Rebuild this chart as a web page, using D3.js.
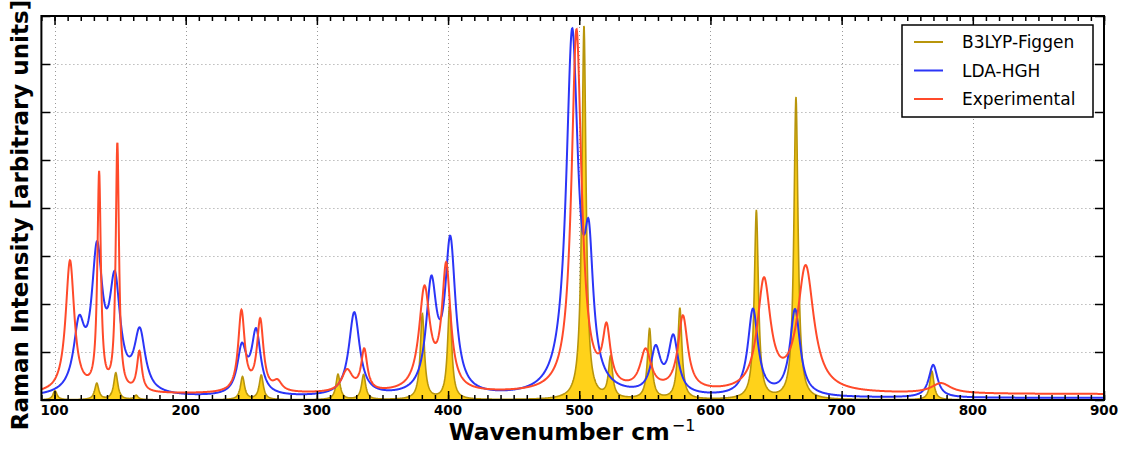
<!DOCTYPE html>
<html><head><meta charset="utf-8">
<script src="https://cdn.jsdelivr.net/npm/d3@7"></script>
<style>body{margin:0;background:#fff}svg{display:block}</style>
</head><body><svg id="c" width="1122" height="449"></svg>
<script>
// ---- data: peak lists: [centre cm^-1, height, half-width] ----
const xTicks = [100,200,300,400,500,600,700,800,900];
const seriesNames = ["B3LYP-Figgen","LDA-HGH","Experimental"];
const b3lypPeaks = [
  [100.4,0.19,1.9],[132.2,0.34,1.9],[146.7,0.56,1.9],[162.2,0.09,1.9],[243.3,0.48,1.9],[257.6,0.51,1.9],
  [316.1,0.53,1.9],[335.6,0.52,1.9],[380.4,1.78,1.9],[401.2,1.98,1.9],[503.6,7.8,1.9],[523.8,0.84,1.9],
  [553.6,1.46,1.9],[576.7,1.9,1.9],[635,3.93,1.9],[665.2,6.3,1.9],[768.8,0.6,1.9]
];
const ldaPeaks = [
  [118.7,1.3,5],[132.4,2.82,5],[146,2.18,5],[165,1.24,5],[242.8,0.95,4.2],[253.7,1.3,4.2],
  [328.5,1.74,5],[387.2,2.2,4.8],[401.7,3.12,4.8],[494.6,7.45,5.5],[507.3,2.5,4],[558.2,0.9,4.5],
  [571.7,1.17,4.5],[632.4,1.8,4.7],[664.5,1.8,4.7],[769.8,0.68,4]
];
const expPeaks = [
  [111.8,2.75,4],[134,4.5,1.6],[147.9,5.15,1.5],[164.7,0.83,2.2],[242.5,1.68,3],[256.8,1.48,3],
  [270,0.2,4],[323,0.45,5],[336.1,0.85,2.8],[382,2.1,5],[398.6,2.55,4],[497.9,7.55,4.6],
  [520.8,1.15,3.5],[550.6,0.82,5],[579,1.55,4.5],[640.8,2.28,6],[672.6,2.6,7.5],[775.8,0.21,9]
];
const ldaBaseline = 0.04, expBaseline = 0.12;

const W=1122,H=449, m={l:41.4,r:18,t:16,b:49};
const svg=d3.select("#c");
const x=d3.scaleLinear().domain([90,900]).range([m.l,W-m.r]);
const y=d3.scaleLinear().domain([0,8]).range([H-m.b,m.t]);

function spectrum(peaks, base){
  const pts=[];
  for(let v=90; v<=900.001; v+=0.25){
    let s=base;
    for(const [c,h,w] of peaks){const d=(v-c)/w; s+=h/(1+d*d);}
    pts.push([v,s]);
  }
  return pts;
}
const gold=spectrum(b3lypPeaks,0), blue=spectrum(ldaPeaks,ldaBaseline), red=spectrum(expPeaks,expBaseline);

const g=svg.append("g");
svg.append("defs").append("clipPath").attr("id","pc").append("rect")
  .attr("x",x(90)).attr("y",y(8)).attr("width",x(900)-x(90)).attr("height",y(0)-y(8));

// grid
const grid=g.append("g").attr("stroke","#999").attr("stroke-width",1).attr("stroke-dasharray","1,3");
xTicks.filter(t=>t<900).forEach(t=>grid.append("line").attr("x1",Math.round(x(t))+0.5).attr("x2",Math.round(x(t))+0.5).attr("y1",y(0)).attr("y2",y(8)));
d3.range(1,8).forEach(t=>grid.append("line").attr("y1",y(t)+0.5).attr("y2",y(t)+0.5).attr("x1",x(90)).attr("x2",x(900)));

const pl=g.append("g").attr("clip-path","url(#pc)");
const area=d3.area().x(d=>x(d[0])).y0(y(0)).y1(d=>y(d[1]));
const line=d3.line().x(d=>x(d[0])).y(d=>y(d[1]));
pl.append("path").datum(gold).attr("d",area).attr("fill","#ffd21a");
pl.append("path").datum(gold).attr("d",line).attr("fill","none").attr("stroke","#b8950b").attr("stroke-width",1.6);
pl.append("path").datum(blue).attr("d",line).attr("fill","none").attr("stroke","#2b35f7").attr("stroke-width",2);
pl.append("path").datum(red).attr("d",line).attr("fill","none").attr("stroke","#ff4a2a").attr("stroke-width",2);

// axes (inward ticks on all sides)
const minor=d3.range(90,901,10);
const ax=g.append("g");
function tickAxis(axisGen, tr){ ax.append("g").attr("transform",tr).call(axisGen).call(s=>s.select(".domain").remove()).call(s=>s.selectAll("line").attr("stroke","#000").attr("stroke-width",1.5)); }
tickAxis(d3.axisBottom(x).tickValues(minor).tickSize(-5).tickFormat(""),`translate(0,${y(0)})`);
tickAxis(d3.axisTop(x).tickValues(minor).tickSize(-5).tickFormat(""),`translate(0,${y(8)})`);
tickAxis(d3.axisBottom(x).tickValues(xTicks).tickSize(-9).tickFormat(""),`translate(0,${y(0)})`);
tickAxis(d3.axisTop(x).tickValues(xTicks).tickSize(-9).tickFormat(""),`translate(0,${y(8)})`);
tickAxis(d3.axisLeft(y).tickValues(d3.range(0,9)).tickSize(-9).tickFormat(""),`translate(${x(90)},0)`);
tickAxis(d3.axisRight(y).tickValues(d3.range(0,9)).tickSize(-9).tickFormat(""),`translate(${x(900)},0)`);
// tick labels
ax.selectAll("text.xl").data(xTicks).enter().append("text")
  .attr("x",d=>x(d)).attr("y",415).attr("text-anchor","middle")
  .attr("font-family","DejaVu Sans").attr("font-weight","bold").attr("font-size",13.5).text(d=>d);
// frame
g.append("rect").attr("x",x(90)).attr("y",y(8)).attr("width",x(900)-x(90)).attr("height",y(0)-y(8))
  .attr("fill","none").attr("stroke","#000").attr("stroke-width",2);

// labels
const xl=svg.append("text").attr("x",572).attr("y",440).attr("text-anchor","middle")
  .attr("font-family","DejaVu Sans").attr("font-weight","bold").attr("font-size",23.5);
xl.append("tspan").text("Wavenumber cm");
xl.append("tspan").attr("dx",2).attr("dy",-9).attr("font-weight","normal").attr("font-size",16).text("\u22121");
svg.append("text").attr("transform","translate(28,215) rotate(-90)").attr("text-anchor","middle")
  .attr("font-family","DejaVu Sans").attr("font-weight","bold").attr("font-size",23)
  .text("Raman Intensity [arbitrary units]");

// legend
const lg=svg.append("g");
lg.append("rect").attr("x",902).attr("y",25).attr("width",191).attr("height",92).attr("fill","#fff").attr("stroke","#000").attr("stroke-width",1.5);
const colors=["#b8950b","#2b35f7","#ff4a2a"];
seriesNames.forEach((n,i)=>{
  const yy=42+i*28.5;
  lg.append("line").attr("x1",914).attr("x2",943).attr("y1",yy).attr("y2",yy).attr("stroke",colors[i]).attr("stroke-width",2);
  lg.append("text").attr("x",962).attr("y",yy+6.3).attr("font-family","DejaVu Sans").attr("font-size",17).text(n);
});
</script></body></html>
